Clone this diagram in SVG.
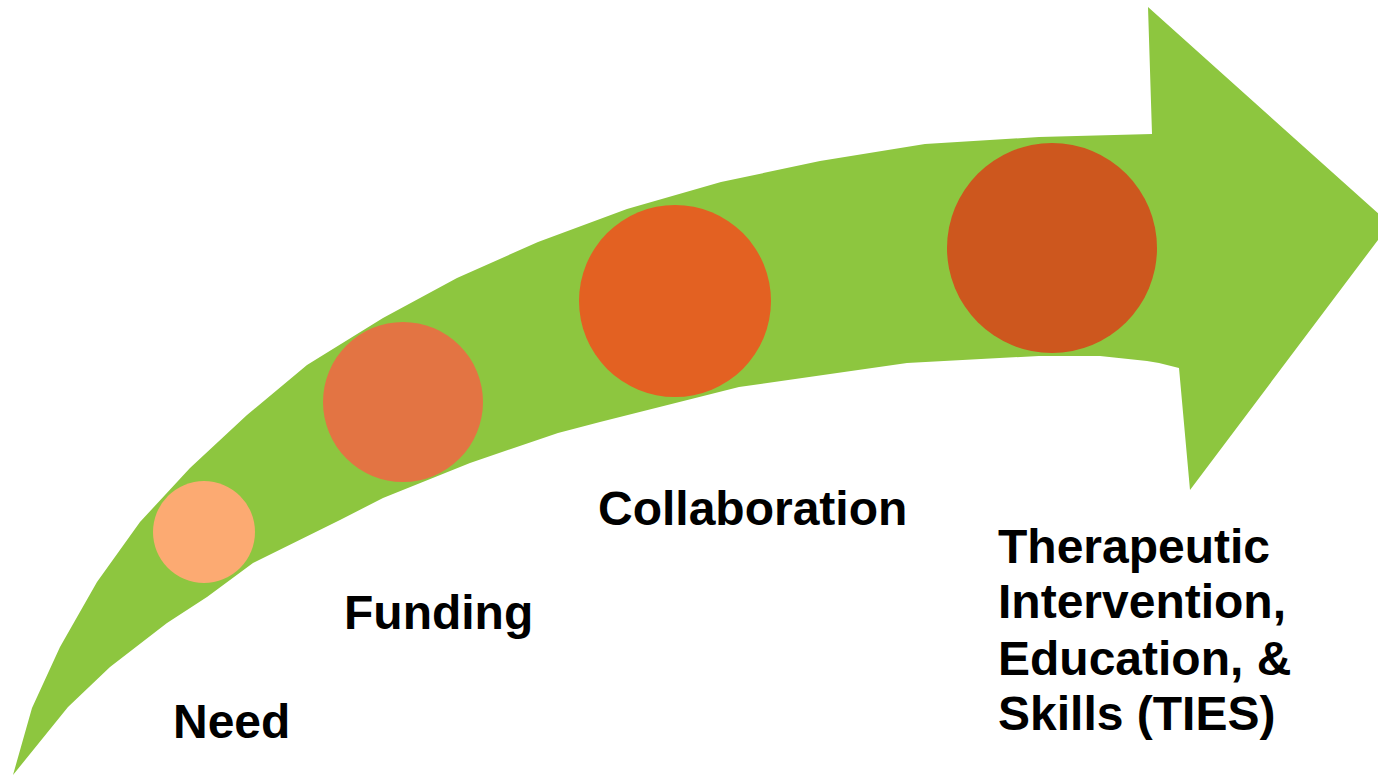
<svg xmlns="http://www.w3.org/2000/svg" width="1378" height="776" viewBox="0 0 1378 776">
<style>
.lbl{font-family:"Liberation Sans",Arial,sans-serif;font-weight:bold;font-size:48px;fill:#000}
</style>
<rect width="1378" height="776" fill="#fff"/>
<g id="arrow">
<polygon fill="#8DC63F" points="13,775 32,708 60,647 97,582 140,522 190,468 247,415 307,365 383,318 457,278 538,242 627,209 721,182 820,161 925,144 1039,137 1152,134 1148,7 1390,224 1190,490 1179,368 1159,363 1147,361 1100,356 1039,356 907,363 739,387 600,422 558,433 470,463 383,498 340,520 253,563 207,597 167,623 110,667 68,707"/>
</g>
<g id="connectors"></g>
<g id="need">
<circle cx="204" cy="532" r="51" fill="#FCAA72"/>
<text class="lbl" x="173" y="738">Need</text>
</g>
<g id="funding">
<circle cx="403" cy="402" r="80" fill="#E37443"/>
<text class="lbl" x="344" y="629">Funding</text>
</g>
<g id="collaboration">
<circle cx="675" cy="301" r="96" fill="#E36122"/>
<text class="lbl" x="598" y="525">Collaboration</text>
</g>
<g id="ties">
<circle cx="1052" cy="248" r="105" fill="#CD571E"/>
<text class="lbl" x="998" y="563">Therapeutic</text>
<text class="lbl" x="998" y="618">Intervention,</text>
<text class="lbl" x="998" y="675">Education, &amp;</text>
<text class="lbl" x="998" y="730">Skills (TIES)</text>
</g>
</svg>
